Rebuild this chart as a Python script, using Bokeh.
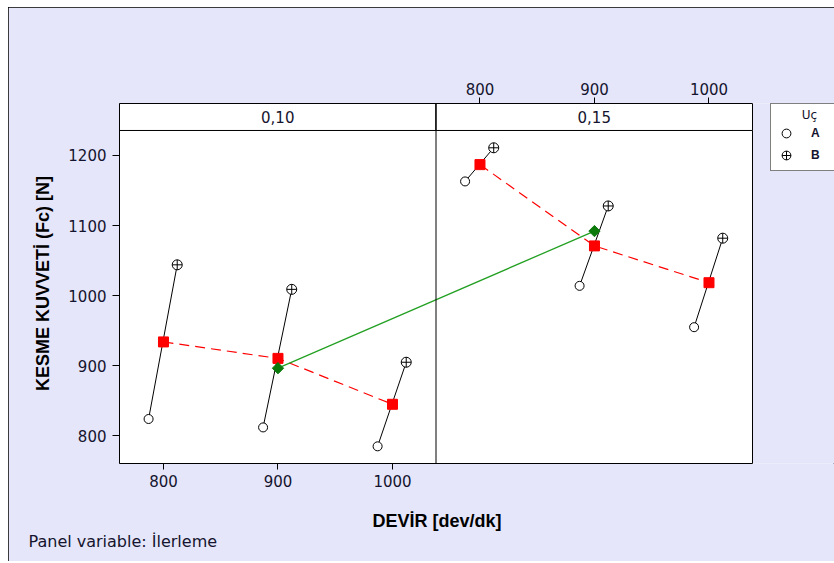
import numpy as np
from bokeh.plotting import figure
from bokeh.models import (ColumnDataSource, Range1d, LinearAxis, FixedTicker,
                          Span, Title, Legend, LegendItem)
from bokeh.transform import dodge
from bokeh.core.properties import value
from bokeh.embed import file_html
from bokeh.resources import INLINE

# ---------------- data ----------------
DEVIR = [800, 900, 1000]                 # DEVİR [dev/dk]
PANELS = ["0,10", "0,15"]                # Panel variable: İlerleme
UC_A_010 = [824, 812, 785]               # Uç A, İlerleme 0,10
UC_B_010 = [1044, 1009, 905]             # Uç B, İlerleme 0,10
UC_A_015 = [1163, 1014, 955]             # Uç A, İlerleme 0,15
UC_B_015 = [1211, 1128, 1082]            # Uç B, İlerleme 0,15
Y_TICKS = [800, 900, 1000, 1100, 1200]
X_TICKS = [800, 900, 1000]
UC_LABELS = ["A", "B"]

# ---------------- layout constants ----------------
PANELS_PX = 633          # width of the two panels in px
FRAME_PX = 715           # frame incl. legend area
X_START = 761.6
PANEL_W = 276.4
X_END = X_START + 2 * PANEL_W
X_FRAME_END = X_START + FRAME_PX / PANELS_PX * (X_END - X_START)
Y_START = 760.5
Y_STRIP = 1235.7
Y_END = 1274.2
DODGE_A = -13
DODGE_B = 12
NBSP = "\u00a0"

BG = "#E6E6FA"
TXT = "#14142e"

# ---------------- build data table ----------------
offsets = [i * PANEL_W for i in range(len(PANELS))]
a_vals = [UC_A_010, UC_A_015]
b_vals = [UC_B_010, UC_B_015]
xs, ys_a, ys_b = [], [], []
for off, a, b in zip(offsets, a_vals, b_vals):
    xs += [d + off for d in DEVIR]
    ys_a += a
    ys_b += b
xs = np.array(xs, dtype=float)
ys_a = np.array(ys_a, dtype=float)
ys_b = np.array(ys_b, dtype=float)
means = (ys_a + ys_b) / 2
src = ColumnDataSource(dict(x=xs, a=ys_a, b=ys_b, m=means))

n = len(DEVIR)
red_xs = [list(xs[i * n:(i + 1) * n]) for i in range(len(PANELS))]
red_ys = [list(means[i * n:(i + 1) * n]) for i in range(len(PANELS))]
green_x = [float(np.mean(DEVIR)) + off for off in offsets]
green_y = [float(np.mean(m)) for m in red_ys]

# ---------------- figure ----------------
p = figure(frame_width=FRAME_PX, frame_height=360, output_backend="svg",
           toolbar_location=None,
           x_range=Range1d(X_START, X_FRAME_END), y_range=Range1d(Y_START, Y_END),
           min_border_left=111, min_border_right=0, min_border_top=96,
           min_border_bottom=98, background_fill_color=BG,
           border_fill_color=BG, outline_line_color=None)
p.styles = {"outline": "1px solid black", "outline-offset": "-1px",
            "margin-left": "8px", "margin-top": "7px"}
p.xgrid.visible = False
p.ygrid.visible = False

p.extra_x_ranges = {"top": Range1d(X_START - PANEL_W, X_FRAME_END - PANEL_W)}
top_ax = LinearAxis(x_range_name="top", ticker=FixedTicker(ticks=X_TICKS),
                    bounds=(X_START - PANEL_W, X_END - PANEL_W))
p.add_layout(top_ax, "above")

bottom_ax = p.below[0]
left_ax = p.left[0]
bottom_ax.ticker = FixedTicker(ticks=X_TICKS)
bottom_ax.bounds = (X_START, X_END)
left_ax.ticker = FixedTicker(ticks=Y_TICKS)

for ax in [bottom_ax, left_ax, top_ax]:
    ax.major_tick_in = 0
    ax.major_tick_out = 6
    ax.minor_tick_line_color = None
    ax.major_tick_line_color = "black"
    ax.axis_line_color = "black"
    ax.major_label_text_font = "DejaVu Sans"
    ax.major_label_text_font_size = "15px"
    ax.major_label_text_color = TXT
    ax.major_label_standoff = 5
left_ax.major_tick_out = 7
left_ax.major_label_standoff = 6
top_ax.major_label_standoff = 3

# trailing no-break spaces keep the label centred under the two panels
bottom_ax.axis_label = "DEVİR [dev/dk]" + NBSP * 16
left_ax.axis_label = "KESME KUVVETİ (Fc) [N]"
for ax in [bottom_ax, left_ax]:
    ax.axis_label_text_font = "Liberation Sans"
    ax.axis_label_text_font_size = "18px"
    ax.axis_label_text_font_style = "bold"
    ax.axis_label_text_color = "black"
bottom_ax.axis_label_standoff = 21
left_ax.axis_label_standoff = 12

# panel area and strip header
p.quad(left=X_START, right=X_END, bottom=Y_START, top=Y_STRIP,
       fill_color="white", line_color="black", line_width=1)
p.quad(left=[X_START + o for o in offsets], right=[X_START + o + PANEL_W for o in offsets],
       bottom=Y_STRIP, top=Y_END, fill_color="white", line_color="black", line_width=1)
p.text(x=[X_START + o + PANEL_W / 2 for o in offsets], y=(Y_STRIP + Y_END) / 2,
       text=PANELS, text_align="center", text_baseline="middle",
       text_font=value("DejaVu Sans"), text_font_size=value("15px"), text_color=TXT)

# panel divider
p.add_layout(Span(location=X_START + PANEL_W, dimension="height",
                  line_color="black", line_width=1))

# A-B connecting lines
p.segment(x0=dodge("x", DODGE_A, range=p.x_range), y0="a",
          x1=dodge("x", DODGE_B, range=p.x_range), y1="b",
          source=src, line_color="black", line_width=1)

# red dashed mean lines per panel
p.multi_line(xs=red_xs, ys=red_ys, line_color="red", line_width=1.2, line_dash="10 6")
# green panel-mean line
p.line(green_x, green_y, line_color="#22A022", line_width=1.3)

rA = p.scatter(x=dodge("x", DODGE_A, range=p.x_range), y="a", source=src,
               marker="circle", size=9, fill_color="white", line_color="black",
               line_width=1)
rB = p.scatter(x=dodge("x", DODGE_B, range=p.x_range), y="b", source=src,
               marker="circle_cross", size=10, fill_color="white", line_color="black",
               line_width=1)
p.scatter(x="x", y="m", source=src, marker="square", size=10,
          fill_color="red", line_color="red")
p.scatter(green_x, green_y, marker="square", angle=np.pi / 4, size=8,
          fill_color="#0B7A0B", line_color="#0B7A0B")

legend = Legend(items=[LegendItem(label=UC_LABELS[0], renderers=[rA]),
                       LegendItem(label=UC_LABELS[1], renderers=[rB])],
                title=NBSP * 7 + "Uç", location=(651, 292))
legend.title_text_font = "DejaVu Sans"
legend.title_text_font_size = "12px"
legend.title_text_font_style = "normal"
legend.title_text_color = TXT
legend.label_text_font = "Liberation Sans"
legend.label_text_font_size = "12px"
legend.label_text_font_style = "bold"
legend.label_text_color = TXT
legend.border_line_color = "black"
legend.border_line_width = 1
legend.background_fill_color = "white"
legend.background_fill_alpha = 1
legend.glyph_width = 22
legend.glyph_height = 22
legend.spacing = 0
legend.padding = 4
legend.label_standoff = 14
legend.title_standoff = 0
legend.margin = 0
p.add_layout(legend)

p.add_layout(Title(text="Panel variable: İlerleme", align="left", offset=-91,
                   standoff=-7, text_font="DejaVu Sans", text_font_size="16px",
                   text_font_style="normal", text_color=TXT), "below")

open("out.html", "w").write(file_html(p, INLINE))
